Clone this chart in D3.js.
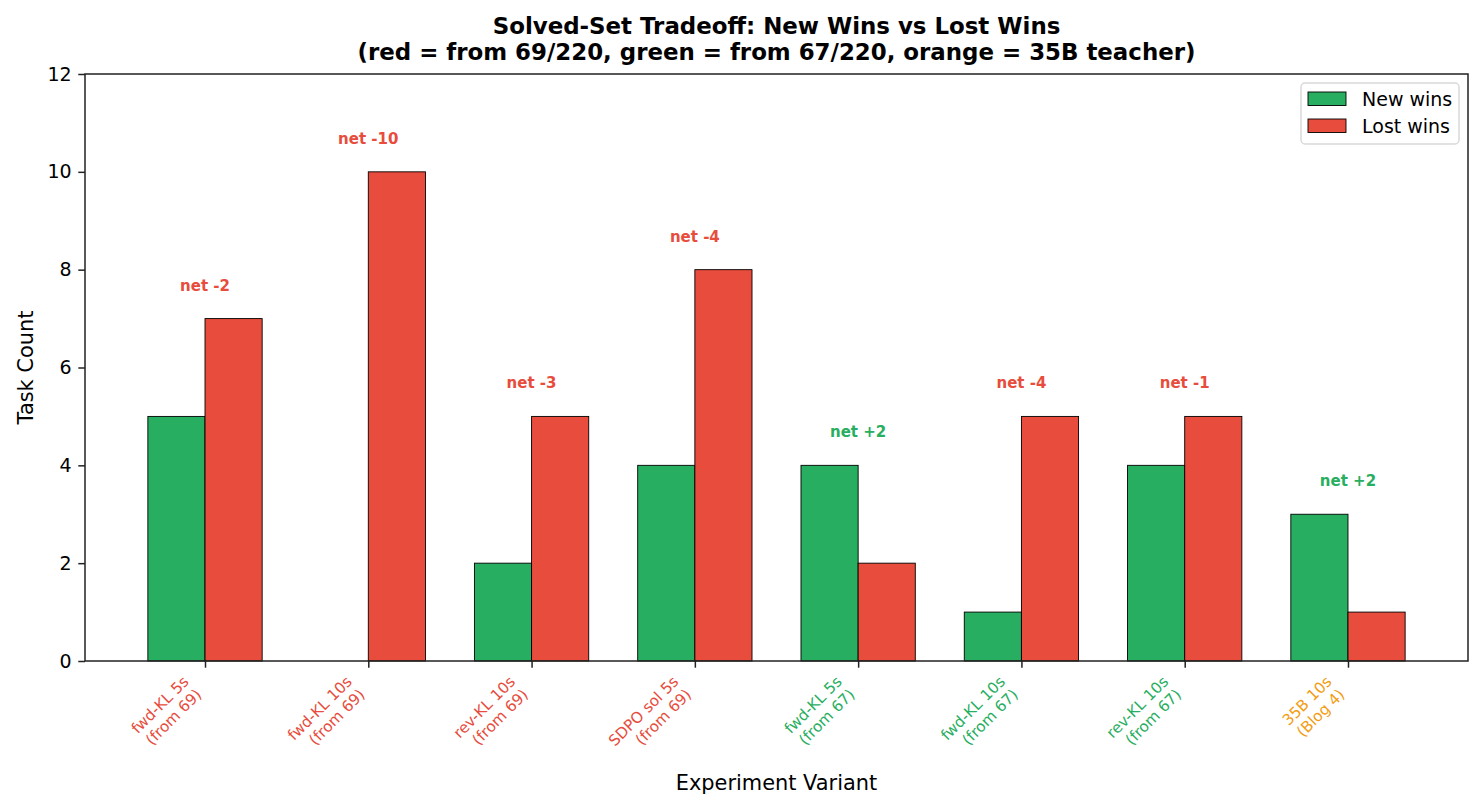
<!DOCTYPE html>
<html>
<head>
<meta charset="utf-8">
<script src="https://cdn.jsdelivr.net/npm/d3@7"></script>
<style>
  body { margin: 0; background: #fff; }
  svg text { font-family: "DejaVu Sans", sans-serif; }
</style>
</head>
<body>
<svg id="chart" width="1483" height="810"></svg>
<script>
// data
const variants = [
    ["fwd-KL 5s", "(from 69)"],
    ["fwd-KL 10s", "(from 69)"],
    ["rev-KL 10s", "(from 69)"],
    ["SDPO sol 5s", "(from 69)"],
    ["fwd-KL 5s", "(from 67)"],
    ["fwd-KL 10s", "(from 67)"],
    ["rev-KL 10s", "(from 67)"],
    ["35B 10s", "(Blog 4)"]
];
const labelGroup = ["red", "red", "red", "red", "green", "green", "green", "orange"];
const newWins = [5, 0, 2, 4, 4, 1, 4, 3];
const lostWins = [7, 10, 5, 8, 2, 5, 5, 1];
const yTicks = [0, 2, 4, 6, 8, 10, 12];

const colors = { green: "#27ae60", red: "#e74c3c", orange: "#f39c12" };

const margin = {top: 74, right: 15, bottom: 149, left: 85};
const svg = d3.select("#chart");
const width = 1483 - margin.left - margin.right;
const height = 810 - margin.top - margin.bottom;

const g = svg.append("g")
    .attr("transform", "translate(" + margin.left + "," + margin.top + ")");

const barW = 0.35;
const x_scale = d3.scaleLinear()
    .domain([-0.735, variants.length - 1 + 0.735])
    .range([0, width]);

const y_scale = d3.scaleLinear()
    .domain([0, 12])
    .range([height, 0]);

// bars
const drawBars = function(values, offset, color) {
    g.append("g").selectAll("rect")
    .data(values)
    .enter()
    .append("rect")
    .attr("x", (d, i) => x_scale(i + offset - barW / 2))
    .attr("y", d => y_scale(d))
    .attr("width", x_scale(barW) - x_scale(0))
    .attr("height", d => y_scale(0) - y_scale(d))
    .attr("fill", color)
    .attr("stroke", "#000")
    .attr("stroke-width", d => d > 0 ? 0.9 : 0);
};
drawBars(newWins, -barW / 2, colors.green);
drawBars(lostWins, barW / 2, colors.red);

// net labels
g.append("g").selectAll("text")
    .data(variants)
    .enter()
    .append("text")
    .attr("x", (d, i) => x_scale(i))
    .attr("y", (d, i) => y_scale(Math.max(newWins[i], lostWins[i]) + 0.5) - 3.6)
    .attr("text-anchor", "middle")
    .attr("font-size", "15px")
    .attr("font-weight", "bold")
    .attr("fill", (d, i) => newWins[i] - lostWins[i] > 0 ? colors.green : colors.red)
    .text((d, i) => {
        const net = newWins[i] - lostWins[i];
        return "net " + (net > 0 ? "+" : "") + net;
    });

// axes
const tick = 6.7;
const yAxis = g.append("g")
    .call(d3.axisLeft(y_scale).tickValues(yTicks).tickSize(tick).tickPadding(tick));
const xAxis = g.append("g")
    .attr("transform", "translate(0," + height + ")")
    .call(d3.axisBottom(x_scale).tickValues(d3.range(variants.length)).tickSize(tick).tickFormat(""));

[yAxis, xAxis].forEach(a => {
    a.select(".domain").remove();
    a.selectAll("line").attr("stroke", "#222").attr("stroke-width", 1.5);
});
yAxis.selectAll("text")
    .attr("font-size", "19px")
    .attr("fill", "#000")
    .style("font-family", "DejaVu Sans");

// frame
g.append("rect")
    .attr("width", width)
    .attr("height", height)
    .attr("fill", "none")
    .attr("stroke", "#222")
    .attr("stroke-width", 1.5);

// rotated x tick labels
const fs = 15.2, lh = 18.2;
variants.forEach((lines, i) => {
    const ax = x_scale(i) - (lh + 3.6) / Math.SQRT2;
    const ay = height + 2 * tick + 11.6 / Math.SQRT2;
    const t = g.append("g")
        .attr("transform", "translate(" + ax + "," + ay + ") rotate(-45)");
    lines.forEach((s, k) => {
        t.append("text")
        .attr("x", 0)
        .attr("y", k * lh)
        .attr("text-anchor", "end")
        .attr("font-size", fs + "px")
        .attr("fill", colors[labelGroup[i]])
        .text(s);
    });
});

// axis labels
g.append("text")
    .attr("x", width / 2)
    .attr("y", height + 129)
    .attr("text-anchor", "middle")
    .attr("font-size", "20.9px")
    .text("Experiment Variant");

g.append("text")
    .attr("transform", "rotate(-90)")
    .attr("x", -height / 2)
    .attr("y", -52)
    .attr("text-anchor", "middle")
    .attr("font-size", "20.9px")
    .text("Task Count");

// title
const titleLines = [
    "Solved-Set Tradeoff: New Wins vs Lost Wins",
    "(red = from 69/220, green = from 67/220, orange = 35B teacher)"
];
titleLines.forEach((s, k) => {
    svg.append("text")
    .attr("x", margin.left + width / 2)
    .attr("y", 33.5 + k * 26.5)
    .attr("text-anchor", "middle")
    .attr("font-size", "22.9px")
    .attr("font-weight", "bold")
    .text(s);
});

// legend
const legendItems = [["New wins", colors.green], ["Lost wins", colors.red]];
const lg = g.append("g")
    .attr("transform", "translate(" + (width - 167) + ",9)");
lg.append("rect")
    .attr("width", 158)
    .attr("height", 61)
    .attr("rx", 4)
    .attr("fill", "#fff")
    .attr("fill-opacity", 0.8)
    .attr("stroke", "#d9d9d9")
    .attr("stroke-width", 1.5);
legendItems.forEach((it, k) => {
    lg.append("rect")
    .attr("x", 7)
    .attr("y", 9 + k * 27)
    .attr("width", 38)
    .attr("height", 13.5)
    .attr("fill", it[1])
    .attr("stroke", "#000")
    .attr("stroke-width", 0.9);
    lg.append("text")
    .attr("x", 61)
    .attr("y", 22.5 + k * 27)
    .attr("font-size", "19px")
    .text(it[0]);
});
</script>
</body>
</html>
